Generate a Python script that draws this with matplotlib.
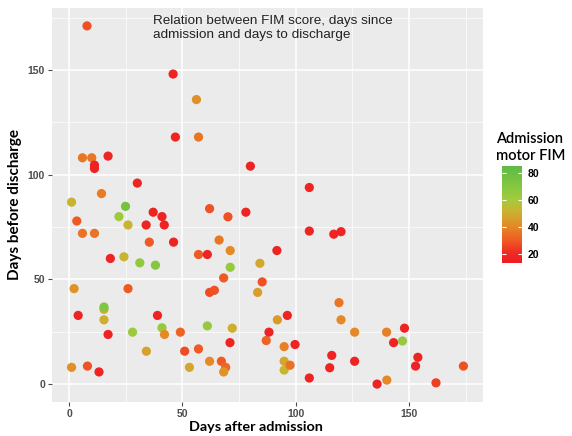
import numpy as np
import matplotlib
matplotlib.use("Agg")
import matplotlib.pyplot as plt
from matplotlib.colors import LinearSegmentedColormap, Normalize

# days after admission, days before discharge, admission motor FIM
days_after = [7.9, 45.9, 56.2, 46.9, 57.1, 5.9, 10.0, 17.2, 11.2, 11.2,
              80.0, 30.1, 14.3, 1.1, 24.9, 37.1, 41.0, 62.0, 70.1, 78.0,
              22.0, 3.4, 5.9, 11.2, 26.0, 34.0, 42.0, 35.4, 46.1, 66.2,
              71.1, 57.1, 61.0, 91.7, 18.2, 24.2, 31.2, 38.1, 71.1, 84.2,
              68.2, 85.2, 2.2, 26.0, 62.0, 64.1, 83.2, 4.0, 15.4, 15.4,
              15.4, 39.0, 41.0, 42.1, 28.0, 17.2, 49.1, 72.0, 61.0, 71.0,
              34.1, 51.0, 57.1, 62.0, 67.2, 69.1, 68.2, 53.1, 1.1, 8.1,
              13.2, 87.0, 88.2, 91.9, 96.3, 94.9, 94.9, 94.9, 97.5, 99.7,
              106.0, 115.9, 115.0, 106.0, 106.0, 116.8, 120.0, 119.1, 120.0, 126.0,
              140.1, 148.0, 143.2, 147.1, 126.0, 153.9, 152.9, 174.0, 135.9, 140.2,
              161.9]
days_before = [171.1, 148.1, 135.9, 118.0, 118.0, 108.1, 108.1, 108.9, 104.6, 103.0,
               104.1, 96.0, 91.0, 86.9, 84.9, 82.1, 80.0, 83.8, 79.9, 82.1,
               80.0, 77.9, 72.0, 72.0, 76.0, 76.0, 76.0, 67.8, 67.8, 68.8,
               63.8, 61.9, 61.9, 63.8, 60.0, 60.8, 57.9, 56.8, 55.8, 57.7,
               50.7, 48.8, 45.6, 45.6, 43.8, 44.8, 43.8, 32.8, 35.7, 36.8,
               30.7, 32.8, 26.9, 23.7, 24.8, 23.7, 24.8, 26.7, 27.8, 19.8,
               15.7, 15.7, 16.8, 10.9, 10.9, 8.0, 5.8, 8.0, 8.0, 8.6,
               5.8, 20.8, 24.8, 30.7, 32.8, 17.9, 10.9, 6.7, 9.0, 18.9,
               2.9, 13.7, 7.8, 93.9, 73.1, 71.6, 72.8, 38.9, 30.7, 24.8,
               24.8, 26.7, 19.8, 20.6, 10.9, 12.8, 8.6, 8.6, 0.0, 1.9,
               0.6]
motor_fim = [28, 17, 42, 17, 36, 36, 36, 18, 16, 16,
             17, 17, 37, 52, 76, 17, 17, 28, 28, 17,
             62, 30, 35, 35, 52, 17, 17, 30, 17, 36,
             40, 30, 17, 17, 17, 52, 66, 70, 65, 48,
             30, 28, 43, 30, 27, 28, 46, 17, 50, 72,
             50, 17, 64, 40, 63, 17, 32, 50, 65, 17,
             47, 27, 30, 40, 30, 33, 43, 48, 42, 28,
             17, 32, 17, 44, 17, 38, 48, 52, 35, 17,
             17, 17, 17, 17, 17, 17, 17, 36, 40, 40,
             38, 17, 17, 65, 17, 17, 17, 28, 17, 40,
             25]
fim_range = (13, 85)
ticks = [0, 50, 100, 150]
minor_ticks = [25, 75, 125, 175]
cbar_ticks = [20, 40, 60, 80]

# red -> orange -> olive -> green, roughly what ggplot's gradient gives
cmap = LinearSegmentedColormap.from_list("fim", [
    (0.00, "#ee1d24"), (0.10, "#ee2a23"), (0.24, "#ef5c24"), (0.38, "#e48a26"),
    (0.52, "#cdaf2f"), (0.65, "#a6cb3b"), (0.80, "#84c640"), (1.00, "#5dbb48")])
norm = Normalize(*fim_range)

fig = plt.figure(figsize=(5.72, 4.36), dpi=100)
ax = fig.add_axes([0.0909, 0.078, 0.7535, 0.9037])
ax.set_facecolor("#ebebeb")
for s in ax.spines.values():
    s.set_visible(False)
ax.set_xticks(ticks)
ax.set_yticks(ticks)
ax.set_xticks(minor_ticks, minor=True)
ax.set_yticks(minor_ticks, minor=True)
ax.grid(which="major", color="white", lw=1.1)
ax.grid(which="minor", color="white", lw=0.5)
ax.set_axisbelow(True)
ax.tick_params(which="major", length=3, color="#4d4d4d", labelsize=7.5, labelcolor="#4d4d4d", pad=2)
ax.tick_params(which="minor", length=0)
for lab in ax.get_xticklabels() + ax.get_yticklabels():
    lab.set_fontweight("bold")
    lab.set_family("Liberation Sans")

ax.scatter(days_after, days_before, c=motor_fim, cmap=cmap, norm=norm, s=44, lw=0)
ax.margins(0.05)

ax.text(0.235, 0.982, "Relation between FIM score, days since\nadmission and days to discharge",
        transform=ax.transAxes, ha="left", va="top", fontsize=9.7,
        family="Liberation Sans", color="#222222", linespacing=1.2)
ax.set_xlabel("Days after admission", family="Lato", fontweight="bold", fontsize=10.4)
ax.xaxis.set_label_coords(0.473, -0.047)
ax.set_ylabel("Days before discharge", family="Lato", fontweight="bold", fontsize=11, labelpad=4)

# colour bar, ggplot style
cax = fig.add_axes([0.8776, 0.3968, 0.035, 0.2225])
cb = fig.colorbar(plt.cm.ScalarMappable(norm=norm, cmap=cmap), cax=cax, ticks=cbar_ticks)
cb.outline.set_visible(False)
cax.tick_params(length=3, color="white", direction="in", labelsize=7.5, pad=4, right=True, left=True)
for lab in cax.get_yticklabels():
    lab.set_fontweight("bold")
    lab.set_family("Liberation Sans")
fig.text(0.867, 0.626, "Admission\nmotor FIM", ha="left", va="bottom", fontsize=10.5,
         family="Lato", fontweight="semibold", linespacing=1.25)

fig.savefig("out.png", dpi=100)
